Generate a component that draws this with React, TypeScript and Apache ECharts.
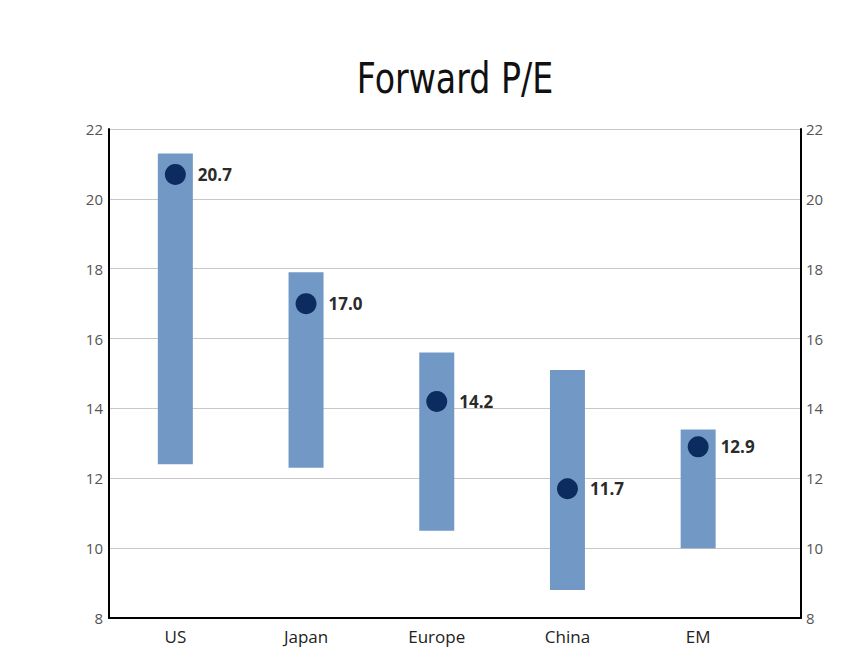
import React, { useEffect, useRef } from "react";
import * as echarts from "echarts";

const categories = ["US", "Japan", "Europe", "China", "EM"];
const rangeLow = [12.4, 12.3, 10.5, 8.8, 10.0];
const rangeHigh = [21.3, 17.9, 15.6, 15.1, 13.4];
const current = [20.7, 17.0, 14.2, 11.7, 12.9];
const yMin = 8;
const yMax = 22;
const yStep = 2;
const titleText = "Forward P/E";

const FONT = "'Open Sans', 'Noto Sans', sans-serif";

export default function App() {
  const ref = useRef<HTMLDivElement>(null);
  useEffect(() => {
    if (!ref.current) return;
    const chart = echarts.init(ref.current, undefined, { renderer: "svg" });
    const spans = rangeHigh.map((h, i) => +(h - rangeLow[i]).toFixed(2));
    chart.setOption({
      animation: false,
      backgroundColor: "#ffffff",
      graphic: [
        {
          type: "text",
          x: 455,
          y: 78,
          scaleX: 0.88,
          style: {
            text: titleText,
            textAlign: "center",
            textVerticalAlign: "middle",
            fontSize: 42,
            fontFamily: "'Liberation Sans Narrow', 'DejaVu Sans Condensed', sans-serif",
            fill: "#111111",
          },
        },
      ],
      grid: [
        { left: 109, right: 66, top: 129, bottom: 30 },
        { left: 110, right: 103.5, top: 129, bottom: 30 },
      ],
      xAxis: [
        {
          type: "value",
          gridIndex: 0,
          min: 0,
          max: 1,
          axisLine: { show: true, lineStyle: { color: "#000", width: 2 } },
          axisTick: { show: false },
          axisLabel: { show: false },
          splitLine: { show: false },
        },
        {
          type: "category",
          gridIndex: 1,
          data: categories,
          axisLine: { show: false },
          axisTick: { show: false },
          axisLabel: {
            margin: 10,
            fontSize: 17,
            fontFamily: FONT,
            color: "#222222",
          },
        },
      ],
      yAxis: [
        {
          type: "value",
          gridIndex: 0,
          position: "left",
          min: yMin,
          max: yMax,
          interval: yStep,
          axisLine: { show: true, lineStyle: { color: "#000", width: 2 } },
          axisTick: { show: false },
          axisLabel: { margin: 6, fontSize: 15, fontFamily: FONT, color: "#555555" },
          splitLine: { show: true, lineStyle: { color: "#c8c8c8", width: 1 } },
        },
        {
          type: "value",
          gridIndex: 0,
          position: "right",
          min: yMin,
          max: yMax,
          interval: yStep,
          axisLine: { show: true, lineStyle: { color: "#000", width: 2 } },
          axisTick: { show: false },
          axisLabel: { margin: 5, fontSize: 15, fontFamily: FONT, color: "#555555" },
          splitLine: { show: false },
        },
        {
          type: "value",
          gridIndex: 1,
          min: yMin,
          max: yMax,
          interval: yStep,
          show: false,
        },
      ],
      series: [
        {
          type: "bar",
          xAxisIndex: 1,
          yAxisIndex: 2,
          stack: "range",
          barWidth: 35,
          itemStyle: { color: "transparent" },
          data: rangeLow,
          silent: true,
        },
        {
          type: "bar",
          xAxisIndex: 1,
          yAxisIndex: 2,
          stack: "range",
          barWidth: 35,
          itemStyle: { color: "#7299c6" },
          data: spans,
        },
        {
          type: "scatter",
          xAxisIndex: 1,
          yAxisIndex: 2,
          symbol: "circle",
          symbolSize: 21,
          itemStyle: { color: "#0c2c60", opacity: 1 },
          data: current,
          z: 5,
          label: {
            show: true,
            position: "right",
            distance: 12,
            formatter: (p: any) => Number(p.value).toFixed(1),
            fontSize: 17,
            fontWeight: "bold",
            fontFamily: FONT,
            color: "#2b2b2b",
          },
        },
      ],
    });
    return () => chart.dispose();
  }, []);
  return (
    <div
      ref={ref}
      style={{ position: "fixed", left: 0, top: 0, width: 867, height: 648 }}
    />
  );
}
